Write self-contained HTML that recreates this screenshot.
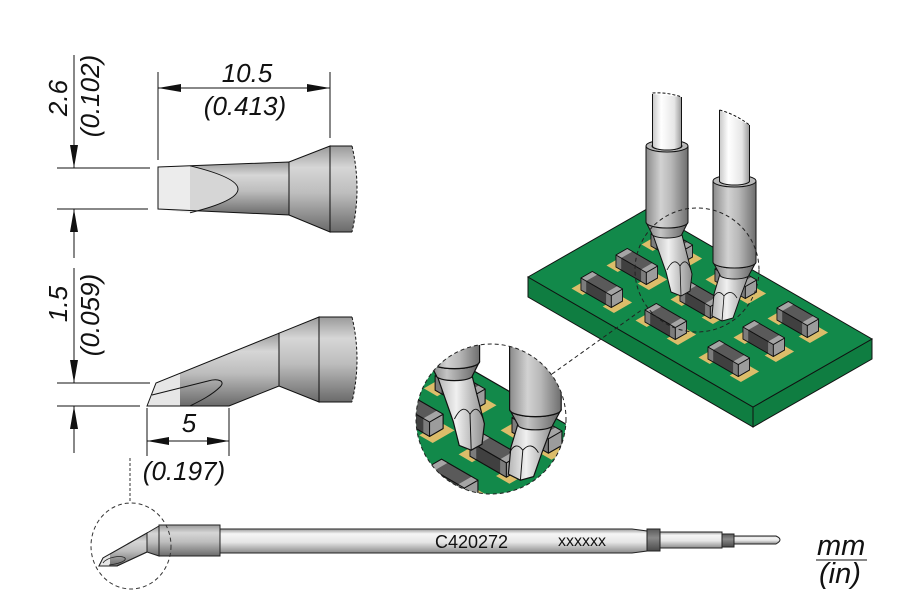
<!DOCTYPE html>
<html><head><meta charset="utf-8"><style>
html,body{margin:0;padding:0;background:#fff;}
svg{display:block;}
text{font-family:"Liberation Sans",Arial,sans-serif;}
.dim{font-style:italic;font-size:26px;fill:#111;}
</style></head><body>
<svg width="900" height="600" viewBox="0 0 900 600" xmlns="http://www.w3.org/2000/svg">
<defs>
  <linearGradient id="gV" x1="0" y1="0" x2="0" y2="1">
    <stop offset="0" stop-color="#9a9a9a"/><stop offset="0.25" stop-color="#d6d6d6"/>
    <stop offset="0.55" stop-color="#bdbdbd"/><stop offset="1" stop-color="#6a6a6a"/>
  </linearGradient>
  <linearGradient id="gShaftH" x1="0" y1="0" x2="0" y2="1">
    <stop offset="0" stop-color="#9a9a9a"/><stop offset="0.2" stop-color="#f6f6f6"/>
    <stop offset="0.55" stop-color="#e6e6e6"/><stop offset="1" stop-color="#8a8a8a"/>
  </linearGradient>
  <linearGradient id="gBand" x1="0" y1="0" x2="0" y2="1">
    <stop offset="0" stop-color="#5a5a5a"/><stop offset="0.4" stop-color="#8a8a8a"/><stop offset="1" stop-color="#4a4a4a"/>
  </linearGradient>
  <linearGradient id="gShaft" x1="0" y1="0" x2="1" y2="0">
    <stop offset="0" stop-color="#c8c8c8"/><stop offset="0.3" stop-color="#ffffff"/>
    <stop offset="0.75" stop-color="#e6e6e6"/><stop offset="1" stop-color="#9a9a9a"/>
  </linearGradient>
  <linearGradient id="gCollar" x1="0" y1="0" x2="1" y2="0">
    <stop offset="0" stop-color="#8a8a8a"/><stop offset="0.35" stop-color="#d2d2d2"/>
    <stop offset="0.6" stop-color="#b8b8b8"/><stop offset="1" stop-color="#6e6e6e"/>
  </linearGradient>
  <linearGradient id="gCone" x1="0" y1="0" x2="1" y2="0">
    <stop offset="0" stop-color="#7a7a7a"/><stop offset="0.35" stop-color="#c4c4c4"/><stop offset="1" stop-color="#5e5e5e"/>
  </linearGradient>
  <linearGradient id="gTip" x1="0" y1="0" x2="1" y2="0">
    <stop offset="0" stop-color="#b5b5b5"/><stop offset="0.4" stop-color="#f0f0f0"/><stop offset="1" stop-color="#8e8e8e"/>
  </linearGradient>

  <g id="comp" stroke="#111" stroke-width="0.8" stroke-linejoin="round">
    <polygon points="-9.5,-1.5 1.7,5 19.9,-5.5 8.7,-12" fill="#dcbd6a" stroke="none"/>
    <polygon points="21.7,16.5 32.9,23 51.1,12.5 39.8,6" fill="#dcbd6a" stroke="none"/>
    <polygon points="0,0 30.3,17.5 30.3,5.5 0,-12" fill="#404040"/>
    <polygon points="0,0 5.2,3 5.2,-9 0,-12" fill="#7c7c7c" stroke="none"/>
    <polygon points="25.1,14.5 30.3,17.5 30.3,5.5 25.1,2.5" fill="#7c7c7c" stroke="none"/>
    <polygon points="30.3,17.5 41.6,11 41.6,-1 30.3,5.5" fill="#9c9c9c"/>
    <polygon points="0,-12 30.3,5.5 41.6,-1 11.3,-18.5" fill="#5a5a5a"/>
    <polygon points="0,-12 5.2,-9 16.5,-15.5 11.3,-18.5" fill="#a5a5a5" stroke="none"/>
    <polygon points="25.1,2.5 30.3,5.5 41.6,-1 36.4,-4" fill="#a5a5a5" stroke="none"/>
    <polygon points="0,0 30.3,17.5 41.6,11 41.6,-1 11.3,-18.5 0,-12" fill="none"/>
    <polyline points="0,-12 30.3,5.5 41.6,-1" fill="none"/>
    <line x1="30.3" y1="5.5" x2="30.3" y2="17.5"/>
  </g>

  <g id="scene">
    <polygon points="528,277 753,407 753,427 528,297" fill="#0f7d41" stroke="#111" stroke-width="1"/>
    <polygon points="753,407 872,339 872,359 753,427" fill="#0f7d41" stroke="#111" stroke-width="1"/>
    <polygon points="528,277 647,209 872,339 753,407" fill="#12894a" stroke="#111" stroke-width="1"/>
    <use href="#comp" x="651" y="246"/>
    <use href="#comp" x="616" y="267"/>
    <use href="#comp" x="715" y="281"/>
    <use href="#comp" x="581" y="290"/>
    <use href="#comp" x="680" y="301"/>
    <use href="#comp" x="777" y="320"/>
    <use href="#comp" x="645" y="322"/>
    <use href="#comp" x="743" y="339"/>
    <use href="#comp" x="708" y="359"/>
    <!-- Tool A -->
    <g stroke="#111" stroke-width="1">
      <polygon points="653,235 682,235 692,274 690,291 681,296 671,292 666,272" fill="url(#gTip)"/>
      <path d="M667,270 Q674,256 680,266 Q686,256 691,270 M680,266 L681,296" fill="none" stroke-width="0.8"/>
      <path d="M646,222 A21,6 0 0 0 688,222 L682,234 A15,4 0 0 1 652,234 Z" fill="url(#gCone)"/>
      <path d="M646,146 L646,222 A21,6 0 0 0 688,222 L688,146 Z" fill="url(#gCollar)"/>
      <ellipse cx="667" cy="146" rx="21" ry="6" fill="#b8b8b8"/>
      <ellipse cx="667" cy="146" rx="15" ry="4" fill="#8a8a8a"/>
      <path d="M652.5,94 L652.5,146 A14.5,4 0 0 0 681.5,146 L681.5,97" fill="url(#gShaft)"/>
      <path d="M652.5,93 Q667,92 681.5,97" fill="none" stroke-dasharray="3,2"/>
    </g>
    <!-- Tool B -->
    <g stroke="#111" stroke-width="1">
      <polygon points="720,274 749,274 740,298 733,318 722,321 712,316 714,294" fill="url(#gTip)"/>
      <path d="M713,298 Q718,288 724,296 Q731,288 737,298 M724,296 L722,321" fill="none" stroke-width="0.8"/>
      <path d="M713,262 A21.5,6 0 0 0 756,262 L749,275 A14.5,4 0 0 1 720,275 Z" fill="url(#gCone)"/>
      <path d="M713,181 L713,262 A21.5,6 0 0 0 756,262 L756,181 Z" fill="url(#gCollar)"/>
      <ellipse cx="734.5" cy="181" rx="21.5" ry="6" fill="#b8b8b8"/>
      <ellipse cx="734.5" cy="181" rx="15" ry="4" fill="#8a8a8a"/>
      <path d="M719.5,110 L719.5,181 A15,4 0 0 0 749.5,181 L749.5,125" fill="url(#gShaft)"/>
      <path d="M719.5,110 Q735,114 749.5,125" fill="none" stroke-dasharray="3,2"/>
    </g>
  </g>
  <clipPath id="cp" clipPathUnits="userSpaceOnUse"><circle cx="491" cy="419" r="75"/></clipPath>
</defs>

<rect width="900" height="600" fill="#fff"/>

<!-- ===== Top tip (side view) ===== -->
<g stroke="#111" stroke-width="1">
  <polygon points="158,167 289,162 289,215 158,209" fill="url(#gV)" stroke="none"/>
  <path d="M158,167 L190,165.8 Q286,189 190,212.8 L158,209 Z" fill="#d6d6d6" stroke="none"/>
  <polygon points="158,167 190,165.8 190,212.8 158,209" fill="#ececec" stroke="none"/>
  <path d="M190,165.8 Q286,189 190,212.8" fill="none"/>
  <polygon points="158,167 289,162 289,215 158,209" fill="none"/>
  <polygon points="289,162 330,146 330,232 289,215" fill="url(#gV)"/>
  <path d="M330,146 L352,146 Q362,189 352,232 L330,232 Z" fill="url(#gV)" stroke="none"/>
  <path d="M352,146 L330,146 L330,232 L352,232" fill="none"/>
  <path d="M352,146 Q362,189 352,232" fill="none" stroke-dasharray="3,2"/>
</g>

<!-- dims top -->
<g stroke="#111" stroke-width="1" fill="none">
  <line x1="74" y1="55" x2="74" y2="168"/>
  <line x1="74" y1="209" x2="74" y2="258"/>
  <line x1="57" y1="168" x2="150" y2="168"/>
  <line x1="57" y1="209" x2="148" y2="209"/>
  <line x1="158" y1="72" x2="158" y2="160"/>
  <line x1="330" y1="72" x2="330" y2="138"/>
  <line x1="158" y1="88" x2="330" y2="88"/>
</g>
<g fill="#111">
  <polygon points="74,168 70,145 78,145"/>
  <polygon points="74,209 70,232 78,232"/>
  <polygon points="158,88 181,84 181,92"/>
  <polygon points="330,88 307,84 307,92"/>
</g>
<text class="dim" transform="translate(67,98) rotate(-90)" text-anchor="middle">2.6</text>
<text class="dim" transform="translate(99,96) rotate(-90)" text-anchor="middle">(0.102)</text>
<text class="dim" x="247" y="82" text-anchor="middle">10.5</text>
<text class="dim" x="245" y="115" text-anchor="middle">(0.413)</text>

<!-- ===== Second tip (side view) ===== -->
<g stroke="#111" stroke-width="1">
  <path d="M319,317 L352,317 Q362,359.5 352,402 L319,402 Z" fill="url(#gV)" stroke="none"/>
  <path d="M352,317 L319,317 L319,402 L352,402" fill="none"/>
  <path d="M352,317 Q362,359.5 352,402" fill="none" stroke-dasharray="3,2"/>
  <polygon points="279,333.2 319,317 319,402 279,386" fill="url(#gV)"/>
  <polygon points="147,406 156,383 279,333.2 279,386 229,406" fill="url(#gV)" stroke="none"/>
  <polygon points="147,406 156,383 180,373.3 180,406" fill="#e6e6e6" stroke="none"/>
  <polygon points="147,406 156,383 279,333.2 279,386 229,406" fill="none"/>
  <path d="M152,395 L208,381 C218,378 226,381 220,387 C212,395 200,401 190,406" fill="none"/>
</g>
<g stroke="#111" stroke-width="1" fill="none">
  <line x1="74" y1="268" x2="74" y2="383"/>
  <line x1="74" y1="406" x2="74" y2="453"/>
  <line x1="57" y1="383" x2="150" y2="383"/>
  <line x1="57" y1="406" x2="140" y2="406"/>
  <line x1="147" y1="408" x2="147" y2="456"/>
  <line x1="229" y1="408" x2="229" y2="456"/>
  <line x1="147" y1="441" x2="229" y2="441"/>
  <line x1="130" y1="458" x2="130" y2="503" stroke-dasharray="3,2" stroke="#333"/>
</g>
<g fill="#111">
  <polygon points="74,383 70,360 78,360"/>
  <polygon points="74,406 70,429 78,429"/>
  <polygon points="147,441 169,437 169,445"/>
  <polygon points="229,441 207,437 207,445"/>
</g>
<text class="dim" transform="translate(67,304) rotate(-90)" text-anchor="middle">1.5</text>
<text class="dim" transform="translate(99,315) rotate(-90)" text-anchor="middle">(0.059)</text>
<text class="dim" x="189" y="432" text-anchor="middle">5</text>
<text class="dim" x="184" y="480" text-anchor="middle">(0.197)</text>

<!-- ===== Bottom full tool ===== -->
<g stroke="#222" stroke-width="1">
  <path d="M220,529 L632,529 L647,531 L647,551 L632,553 L220,553 Z" fill="url(#gShaftH)"/>
  <rect x="647" y="529" width="13" height="22" fill="url(#gBand)"/>
  <rect x="660" y="532" width="62" height="16" fill="url(#gShaftH)"/>
  <rect x="722" y="534" width="12" height="13" fill="url(#gBand)"/>
  <path d="M734,536 L776,536 Q784,539.5 776,544 L734,544 Z" fill="url(#gShaftH)"/>
  <polygon points="99,566 103,558 147,533 147,552 117,566" fill="url(#gV)"/>
  <polygon points="99,566 103,558 110,554 110,566" fill="#e6e6e6" stroke="none"/>
  <polygon points="99,566 103,558 147,533 147,552 117,566" fill="none"/>
  <path d="M103,563 C107,557 121,555 125,558 C127,561 118,564 109,565" fill="none" stroke-width="0.8"/>
  <polygon points="147,533 159,526 159,556 147,552" fill="url(#gV)"/>
  <rect x="159" y="525" width="61" height="31" fill="url(#gV)"/>
</g>
<text x="435" y="548" font-size="18" fill="#111">C420272</text>
<text x="558" y="546" font-size="16" fill="#111">xxxxxx</text>
<ellipse cx="131" cy="546" rx="40" ry="43" fill="none" stroke="#333" stroke-width="1" stroke-dasharray="4,3"/>

<!-- units -->
<text x="817" y="555" font-size="29" font-style="italic" fill="#111">mm</text>
<line x1="816" y1="560" x2="867" y2="560" stroke="#111" stroke-width="1"/>
<text x="819" y="583" font-size="29" font-style="italic" fill="#111">(in)</text>

<!-- ===== PCB scene ===== -->
<use href="#scene"/>
<circle cx="697" cy="270" r="62" fill="none" stroke="#222" stroke-width="1" stroke-dasharray="4,3"/>
<line x1="552" y1="374" x2="643" y2="309" stroke="#222" stroke-width="1" stroke-dasharray="4,3"/>

<!-- magnified -->
<circle cx="491" cy="419" r="75" fill="#fff"/>
<g clip-path="url(#cp)">
  <use href="#scene" transform="translate(-346,95) scale(1.2)"/>
</g>
<circle cx="491" cy="419" r="75" fill="none" stroke="#222" stroke-width="1" stroke-dasharray="4,3"/>
</svg>
</body></html>
